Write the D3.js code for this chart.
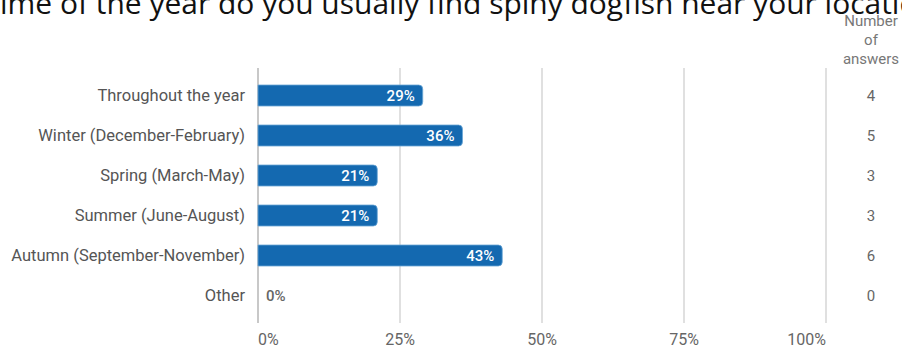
<!DOCTYPE html>
<html>
<head>
<meta charset="utf-8">
<script src="https://cdn.jsdelivr.net/npm/d3@7"></script>
<style>
  body { margin: 0; background: #fff; }
  svg { display: block; }
</style>
</head>
<body>
<div id="chart"></div>
<script>
var svgWidth = 902;
var svgHeight = 347;

// data
var categories = ["Throughout the year", "Winter (December-February)", "Spring (March-May)",
  "Summer (June-August)", "Autumn (September-November)", "Other"];
var percents = [29, 36, 21, 21, 43, 0];
var answers = [4, 5, 3, 3, 6, 0];
var tickValues = [0, 25, 50, 75, 100];
var title = "What time of the year do you usually find spiny dogfish near your location?";

var svg = d3.select("#chart")
  .append("svg")
  .attr("width", svgWidth)
  .attr("height", svgHeight);

var x = d3.scaleLinear().domain([0, 100]).range([258, 826]);
var y = d3.scaleBand().domain(categories).range([75.5, 315.5]).paddingInner(0.475).paddingOuter(0.2375);

// title, cut off at the top and sides like the screenshot
var titleText = svg.append("text")
  .attr("y", 14)
  .attr("font-family", "Open Sans")
  .attr("font-size", "28px")
  .attr("fill", "#111")
  .text(title);
// size it so "ime ... locati" fills the width
var node = titleText.node();
var start = 6, end = title.indexOf("location") + 6;
var visible = node.getSubStringLength(start, end - start);
var size = 28 * 900 / visible;
titleText.attr("font-size", size + "px");
titleText.attr("x", -node.getSubStringLength(0, start));

// gridlines
svg.append("g")
  .selectAll("line")
  .data(tickValues)
  .enter()
  .append("line")
  .attr("x1", d => x(d))
  .attr("x2", d => x(d))
  .attr("y1", 68)
  .attr("y2", 323)
  .attr("stroke", d => d === 0 ? "#c8c8c8" : "#e0e0e0")
  .attr("stroke-width", 2);

// tick labels
svg.append("g")
  .selectAll("text")
  .data(tickValues)
  .enter()
  .append("text")
  .attr("x", d => x(d))
  .attr("y", 345)
  .attr("text-anchor", (d, i) => i === 0 ? "start" : (i === tickValues.length - 1 ? "end" : "middle"))
  .attr("font-family", "Roboto")
  .attr("font-size", "16px")
  .attr("fill", "#666")
  .text(d => d + "%");

// bars with rounded right end
function barPath(w, h, r) {
  if (w <= 0) return "";
  r = Math.min(r, w);
  return `M0,0 H${w - r} Q${w},0 ${w},${r} V${h - r} Q${w},${h} ${w - r},${h} H0 Z`;
}

var rows = svg.append("g")
  .selectAll("g")
  .data(categories)
  .enter()
  .append("g")
  .attr("transform", d => `translate(${x(0)}, ${y(d)})`);

rows.append("path")
  .attr("d", (d, i) => barPath(x(percents[i]) - x(0), y.bandwidth(), 4))
  .attr("fill", "#1469b0")
  .attr("stroke", "#6aa6d6")
  .attr("stroke-width", 0.8);

rows.append("text")
  .attr("x", (d, i) => percents[i] > 0 ? x(percents[i]) - x(0) - 8 : 8)
  .attr("y", y.bandwidth() / 2)
  .attr("dy", "0.36em")
  .attr("text-anchor", (d, i) => percents[i] > 0 ? "end" : "start")
  .attr("font-family", "Roboto")
  .attr("font-size", "15px")
  .attr("font-weight", 500)
  .attr("fill", (d, i) => percents[i] > 0 ? "#fff" : "#666")
  .text((d, i) => percents[i] + "%");

// category labels
svg.append("g")
  .selectAll("text")
  .data(categories)
  .enter()
  .append("text")
  .attr("x", 245)
  .attr("y", d => y(d) + y.bandwidth() / 2)
  .attr("dy", "0.36em")
  .attr("text-anchor", "end")
  .attr("font-family", "Roboto")
  .attr("font-size", "16.5px")
  .attr("fill", "#555")
  .text(d => d);

// number of answers column
var colX = 871;
svg.append("g")
  .selectAll("text")
  .data(["Number", "of", "answers"])
  .enter()
  .append("text")
  .attr("x", colX)
  .attr("y", (d, i) => 26 + i * 19)
  .attr("text-anchor", "middle")
  .attr("font-family", "Roboto")
  .attr("font-size", "15px")
  .attr("fill", "#777")
  .text(d => d);

svg.append("g")
  .selectAll("text")
  .data(categories)
  .enter()
  .append("text")
  .attr("x", colX)
  .attr("y", d => y(d) + y.bandwidth() / 2)
  .attr("dy", "0.36em")
  .attr("text-anchor", "middle")
  .attr("font-family", "Roboto")
  .attr("font-size", "15px")
  .attr("fill", "#666")
  .text((d, i) => answers[i]);
</script>
</body>
</html>
